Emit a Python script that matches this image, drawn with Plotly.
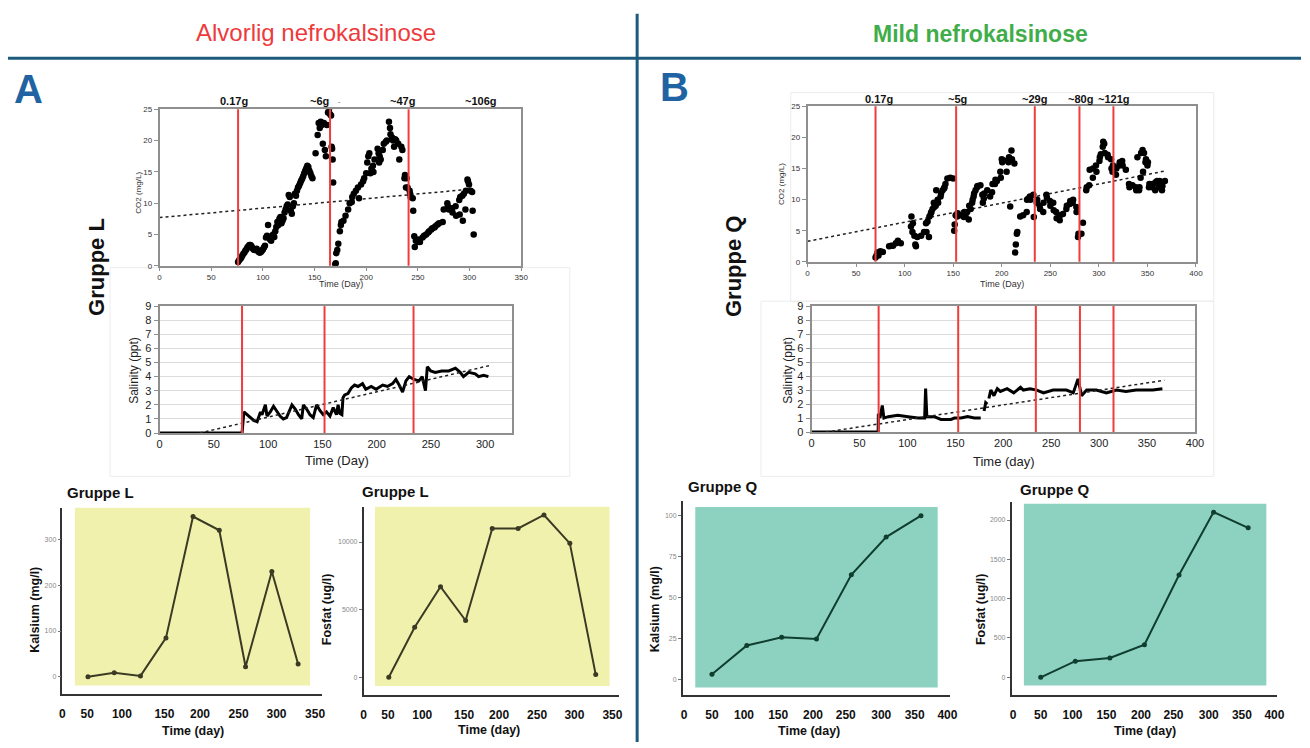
import plotly.graph_objects as go

W, H = 1310, 748

# ---------------- DATA ----------------
# Panel A (Gruppe L) - CO2 scatter
co2_a_day = [76,77,78,79,80,81,82,83,84,85,86,87,88,89,90,91,92,93,94,95,96,97,98,99,100,101,102,
             103,104,105,106,107,108,109,110,111,112,113,114,115,116,117,118,119,120,121,122,123,124,125,126,127,128,129,130,
             131,132,133,134,135,136,137,138,139,140,141,142,143,144,145,146,147,148,
             151,153,154,155,156,157,158,159,160,161,162,163,164,165,166,166.5,167,167.5,168,
             170,170.5,171,172,173,174.5,175.5,176,178,180,182.5,184,186,186.5,188,190,192,193,195,197,198,200,201,202,203,204,205,
             206.5,207,208,211,212,212.5,213,214,216,217,219,220,222,223,223.5,225,226,227,228,229,231,232,234,235,237,237.5,238.5,
             239,240,242,242.5,243,245,245.5,
             246.5,247,248,250,250.5,251,252,254.5,256,258,260,261,263,264,266,267,269,270.5,274,275,278.5,279,280,283,283.5,
             286.5,287,290,290.5,291,293,293.5,294.5,296,296.5,298,298.5,299.5,301,302.5,303,304]
co2_a_val = [0.6,0.9,1.1,1.3,1.6,1.9,2.1,2.4,2.6,2.9,3.1,3.3,3.3,3.1,2.8,2.6,2.5,2.6,2.7,2.4,2.2,2.1,2.2,2.4,2.6,2.9,3.2,
             4.5,4.8,6.5,4.6,4.2,4.0,4.8,5.0,4.6,5.5,6.2,7.0,6.5,7.5,7.8,6.8,7.2,7.6,8.5,9.0,9.5,9.8,11.3,11.0,8.8,8.3,9.5,10.0,
             11.5,11.2,12.0,12.5,12.8,13.2,13.6,13.9,14.3,14.8,15.2,15.6,16.0,15.8,15.2,14.8,14.3,14.0,
             18.0,20.9,22.8,22.0,23.0,22.5,19.5,22.8,18.5,17.5,22.5,24.5,25.0,24.2,24.0,19.0,18.7,17.0,13.3,
             0.2,0.4,2.0,2.5,3.5,5.5,6.5,7.0,7.2,8.0,9.0,10.0,10.2,11.0,11.5,12.0,12.5,10.8,13.0,13.5,14.0,14.8,16.5,17.5,18.0,14.8,15.5,
             16.0,15.0,17.0,18.7,18.0,16.5,17.5,17.0,18.5,19.5,19.8,20.0,23.0,22.0,21.0,20.5,20.0,19.0,20.2,20.0,19.5,17.0,19.0,18.5,14.0,14.5,12.5,
             14.0,12.5,12.0,11.5,11.0,10.8,8.8,
             4.7,3.0,4.0,3.8,4.2,4.0,3.8,4.5,4.8,5.0,5.3,5.5,5.8,6.0,6.1,6.3,6.6,6.8,7.0,9.0,10.0,9.5,9.0,9.2,8.5,
             9.5,8.0,10.5,8.2,11.0,11.2,7.2,11.5,9.0,12.0,13.8,13.5,13.0,12.0,11.8,8.8,5.0]

# Panel B (Gruppe Q) - CO2 scatter
co2_b_day = [70,71,72,73,74,75,77.5,84,86,88,91,93,96,
             106.5,107,108,108.5,110,111,111.6,113,117,120,122,122.5,123.6,125,125.5,127,127.5,128.7,130,130.5,132,132.5,
             134,134.5,137,137.5,139,140.6,141,142,144,147,150,
             151,151.5,152.5,154,154.5,157.6,161,161.5,162.7,164.4,166,166.5,168,169.5,170,171,171.5,173,174.6,175,178,180,180.5,
             181.5,182,185,188,190,190.5,193,193.5,195,198.5,199,200,200.5,202,205,207,207.5,208.7,210,210.5,213,
             213.8,214.5,215.5,216,219,222,225.7,226,227.4,229,229.5,232.5,233,236,236.5,239,239.5,242.7,243,246,246.5,249.5,250,
             253,253.5,256,256.5,259.7,260,263,266.5,267,270,270.5,273,273.5,276.8,277,278.5,279,282,283.6,
             287,287.5,290,290.5,293.8,294,297,297.5,300.6,301,302,304,304.5,305.5,306,309,309.5,312.5,313,314,314.5,317.6,318,
             321,321.5,324,324.5,327.8,331,331.5,334.6,338,338.5,339.7,341.4,341.8,343,343.5,345,345.5,346.5,348,348.5,350,350.5,
             351.6,352,355,355.5,358,358.5,360,360.5,362,362.5,365,365.5,368]
co2_b_val = [0.7,1.0,1.5,1.0,1.5,1.7,1.6,2.5,2.6,2.6,3.0,3.4,3.0,
             5.7,7.3,4.8,6.2,4.2,2.8,2.5,4.0,4.2,4.8,6.2,4.8,6.5,4.0,7.3,7.8,8.0,8.5,9.5,8.8,9.0,11.5,
             10.0,9.5,10.5,11.0,11.5,11.8,12.0,12.5,13.4,13.5,13.4,
             5.0,6.0,7.5,7.3,7.8,7.5,7.2,8.0,7.3,8.0,6.8,9.0,8.5,9.5,10.0,10.5,11.0,11.5,12.0,12.2,12.3,10.8,9.5,
             10.2,11.0,11.5,10.5,11.2,12.5,12.5,13.2,13.0,14.5,13.5,16.5,16.0,16.3,14.5,16.0,16.8,8.9,17.9,16.5,15.8,
             1.5,2.8,4.5,4.8,7.3,7.5,8.0,10.0,10.2,10.5,10.0,10.8,7.2,9.5,10.0,9.0,8.5,8.0,9.5,10.8,10.3,9.8,9.0,
             9.5,8.3,8.0,7.0,6.7,7.5,7.7,8.5,9.0,9.3,9.8,9.5,10.0,8.8,8.0,4.0,4.5,4.5,6.3,
             11.5,12.0,12.3,14.8,13.5,15.0,15.5,14.5,16.2,16.8,17.3,18.5,19.3,19.0,17.5,17.2,16.8,16.5,15.0,14.5,15.5,14.0,15.0,
             15.5,16.0,16.2,15.5,14.8,12.5,12.0,12.3,12.0,11.5,16.8,11.5,12.0,13.5,17.5,18.0,14.5,17.5,16.0,16.5,15.5,16.0,
             12.0,12.5,12.0,12.5,11.5,12.8,13.0,12.5,12.0,13.0,11.5,12.2,13.0]

# Trend lines
trend_co2_a_day, trend_co2_a_val = [0, 305], [7.7, 12.3]
trend_co2_b_day, trend_co2_b_val = [0, 368], [3.3, 14.6]

# Salinity
sal_a_day = [0,76,77.7,80.7,83.8,86.8,89.9,93,94.4,97.5,99,102,105,108,111,114,117,122,125,128,131,132.5,135.5,138.6,
             141.6,144.7,147.7,150.8,153.8,157,160,163,164.5,166,168,169,170.6,173.6,176.7,179.7,182.8,187,190,195,
             199.5,205.6,210,214.7,217.8,220.8,223.9,227,230,234.5,239,242,245,246.7,249.8,254,260,266.5,272.6,277,
             280,284.8,290.9,294,298.5,303]
sal_a_val = [0,0,1.5,1.3,1.1,0.9,0.8,1.5,1.3,2.0,1.2,1.5,1.9,1.5,1.2,1.0,1.1,2.0,1.7,1.3,1.0,2.0,1.7,1.3,
             1.1,2.0,1.6,1.3,1.5,1.2,1.8,1.3,2.0,1.4,1.3,2.5,2.7,2.8,3.2,3.4,3.3,3.5,3.1,3.3,
             3.1,3.4,3.3,3.5,3.8,3.4,2.9,3.7,4.0,3.8,3.7,4.0,3.0,4.7,4.4,4.3,4.4,4.4,4.6,4.3,
             4.0,4.3,4.2,4.0,4.1,4.0]
sal_b_day = [0,69.5,69.7,71.4,73.8,75.5,80,90,100.7,111,118,119,120.3,128,135,145.5,149,156,162.8,169.7,176.5,178,
             180,181.7,183.4,184,185,187,190.3,193.8,197,204,211,218,221,228,235,242,252,266,273,278,281.7,287,297,
             307.6,318,328,338.6,356,366]
sal_b_val = [0,0,1.3,1.0,1.9,1.0,1.1,1.2,1.1,1.0,1.0,3.1,1.1,1.1,0.9,0.9,1.0,1.0,1.1,1.0,1.0,None,
             1.5,2.1,2.0,None,2.4,3.0,2.6,3.1,2.9,3.1,2.8,3.2,3.0,3.1,3.0,2.8,3.0,3.0,2.8,3.8,2.6,3.0,3.0,
             2.8,3.0,2.9,3.0,3.0,3.1]
trend_sal_a_day, trend_sal_a_val = [37, 305], [0, 4.8]
trend_sal_b_day, trend_sal_b_val = [15, 368], [0, 3.7]

# Dosing events (days) and labels
dose_a_co2 = [76, 165, 241]
dose_a_sal = [76, 152, 234]
dose_b = [70, 153, 234, 280, 315]
label_a_text = ["0.17g", "~6g", "-", "~47g", "~106g"]
label_a_day = [72, 155, 174, 235, 311]
label_b_text = ["0.17g", "~5g", "~29g", "~80g", "~121g"]
label_b_day = [74, 154, 234, 281, 316]

# Bottom panels
days_l = [56, 90, 124, 157, 192, 226, 260, 294, 328]
kalsium_l = [0, 9, 2, 85, 350, 320, 22, 230, 28]
fosfat_l = [0, 3700, 6700, 4200, 11000, 11000, 12000, 9900, 200]
days_q = [50, 100, 150, 200, 250, 300, 350]
kalsium_q = [3.5, 21, 26, 25, 64, 87, 100]
fosfat_q = [0, 205, 245, 415, 1300, 2100, 1900]
time_ticktext_l = ["0", "50", "100", "150", "200", "250", "300", "350"]
time_ticktext_q = ["0", "50", "100", "150", "200", "250", "300", "350", "400"]

# ---------------- LAYOUT HELPERS ----------------
def fx(px):
    return px / W

def fy(py):
    return 1 - py / H

FONT = "Liberation Sans, Arial, sans-serif"
layout = dict(width=W, height=H, margin=dict(l=0, r=0, t=0, b=0),
              paper_bgcolor="white", plot_bgcolor="white", showlegend=False,
              font=dict(family=FONT, color="#222"))

def set_axes(n, xpx, ypx, xr, yr, xstyle, ystyle):
    xs = "xaxis" if n == 1 else f"xaxis{n}"
    ys = "yaxis" if n == 1 else f"yaxis{n}"
    layout[xs] = dict(domain=[fx(xpx[0]), fx(xpx[1])], anchor="y" if n == 1 else f"y{n}",
                      range=xr, zeroline=False, **xstyle)
    layout[ys] = dict(domain=[fy(ypx[1]), fy(ypx[0])], anchor="x" if n == 1 else f"x{n}",
                      range=yr, zeroline=False, **ystyle)

co2_x = dict(showline=True, linecolor="#8f8f8f", linewidth=1.5, mirror=True, ticks="outside", ticklen=3,
             tickcolor="#8f8f8f", showgrid=False, dtick=50, tickfont=dict(size=8, color="#333"))
co2_y = dict(showline=True, linecolor="#8f8f8f", linewidth=1.5, mirror=True, ticks="outside", ticklen=4,
             tickcolor="#8f8f8f", showgrid=False, dtick=5, tickfont=dict(size=8, color="#333"))
sal_x = dict(showline=True, linecolor="#8f8f8f", linewidth=2, mirror=True, ticks="", showgrid=False,
             dtick=50, tickfont=dict(size=11, color="#222"))
sal_y = dict(showline=True, linecolor="#8f8f8f", linewidth=2, mirror=True, ticks="outside", ticklen=4,
             tickcolor="#8f8f8f", showgrid=True, gridcolor="#dcdcdc", gridwidth=1, dtick=1,
             tickfont=dict(size=11, color="#222"))

def bot_x(tv, tt):
    return dict(showline=True, linecolor="#333", linewidth=1.5, mirror=False, ticks="", showgrid=False,
                tickmode="array", tickvals=tv, ticktext=tt, ticklabelstandoff=8,
                tickfont=dict(size=12, color="#111", weight="bold"))

def bot_y(tv):
    return dict(showline=True, linecolor="#333", linewidth=1.5, mirror=False, ticks="outside", ticklen=3,
                tickcolor="#777", showgrid=False, tickmode="array", tickvals=tv,
                ticktext=[str(v) for v in tv], tickfont=dict(size=7, color="#888"))

tickpos_l = [23, 55, 100, 155, 201, 251, 300, 350]
tickpos_q = [10, 50, 96, 145, 195, 242, 293, 341, 388]

set_axes(1, (158, 523), (105, 264), [0, 350], [0, 25], co2_x, co2_y)
set_axes(2, (158, 514), (305, 434), [0, 325], [0, 9], sal_x, sal_y)
set_axes(3, (812, 1204), (102, 260), [0, 400], [0, 25], co2_x, co2_y)
set_axes(4, (816, 1203), (305, 433), [0, 400], [0, 9], sal_x, sal_y)
set_axes(5, (60, 322), (510, 699), [23, 359], [-37, 369], bot_x(tickpos_l, time_ticktext_l), bot_y([0, 100, 200, 300]))
set_axes(6, (364, 622), (509, 700), [23, 359], [-1290, 12600], bot_x(tickpos_l, time_ticktext_l), bot_y([0, 5000, 10000]))
set_axes(7, (686, 956), (503, 700), [8, 392], [-9, 109], bot_x(tickpos_q, time_ticktext_q), bot_y([0, 25, 50, 75, 100]))
set_axes(8, (1018, 1286), (504, 700), [8, 392], [-222, 2230], bot_x(tickpos_q, time_ticktext_q), bot_y([0, 500, 1000, 1500, 2000]))

fig = go.Figure()

def ax(n):
    return ("x", "y") if n == 1 else (f"x{n}", f"y{n}")

# CO2 scatter + trends
for n, dx, dy, tx, ty in [(1, co2_a_day, co2_a_val, trend_co2_a_day, trend_co2_a_val),
                          (3, co2_b_day, co2_b_val, trend_co2_b_day, trend_co2_b_val)]:
    xa, ya = ax(n)
    fig.add_trace(go.Scatter(x=tx, y=ty, mode="lines", line=dict(color="#222", width=1.5, dash="dot"),
                             xaxis=xa, yaxis=ya))
    fig.add_trace(go.Scatter(x=dx, y=dy, mode="markers", marker=dict(color="black", size=6.5),
                             xaxis=xa, yaxis=ya))

# Salinity lines + trends
for n, dx, dy, tx, ty in [(2, sal_a_day, sal_a_val, trend_sal_a_day, trend_sal_a_val),
                          (4, sal_b_day, sal_b_val, trend_sal_b_day, trend_sal_b_val)]:
    xa, ya = ax(n)
    fig.add_trace(go.Scatter(x=dx, y=dy, mode="lines", line=dict(color="black", width=3),
                             connectgaps=False, xaxis=xa, yaxis=ya))
    fig.add_trace(go.Scatter(x=tx, y=ty, mode="lines", line=dict(color="#222", width=1.5, dash="dot"),
                             xaxis=xa, yaxis=ya))

# Bottom line charts
for n, dx, dy, col in [(5, days_l, kalsium_l, "#3b3b25"), (6, days_l, fosfat_l, "#3b3b25"),
                       (7, days_q, kalsium_q, "#0f3d2e"), (8, days_q, fosfat_q, "#0f3d2e")]:
    xa, ya = ax(n)
    fig.add_trace(go.Scatter(x=dx, y=dy, mode="lines+markers", line=dict(color=col, width=2),
                             marker=dict(color=col, size=5), xaxis=xa, yaxis=ya))

shapes = []
# dose lines
for n, days in [(1, dose_a_co2), (2, dose_a_sal), (3, dose_b), (4, dose_b)]:
    xa, ya = ax(n)
    for d in days:
        shapes.append(dict(type="line", xref=xa, yref=f"{ya} domain", x0=d, x1=d, y0=0, y1=1,
                           line=dict(color="#f03c3c", width=2)))

# background rectangles for the bottom charts
for n, col, fr in [(5, "#f1f1ae", (0.048, 0.954, 0.044, 1.0)),
                   (6, "#f1f1ae", (0.044, 0.962, 0.047, 1.0)),
                   (7, "#8dd1c1", (0.047, 0.953, 0.037, 0.969)),
                   (8, "#8dd1c1", (0.046, 0.959, 0.048, 0.991))]:
    xa, ya = ax(n)
    shapes.append(dict(type="rect", xref=f"{xa} domain", yref=f"{ya} domain", x0=fr[0], x1=fr[1],
                       y0=fr[2], y1=fr[3], fillcolor=col, line=dict(width=0), layer="below"))

# faint frames around pasted sub-figures
for (x0, y0, x1, y1) in [(108, 266, 572, 478), (795, 88, 1222, 300), (765, 300, 1222, 478)]:
    shapes.append(dict(type="rect", xref="paper", yref="paper", x0=fx(x0), x1=fx(x1), y0=fy(y1), y1=fy(y0),
                       line=dict(color="#ececec", width=1), fillcolor="rgba(0,0,0,0)", layer="below"))

# divider lines
shapes.append(dict(type="line", xref="paper", yref="paper", x0=fx(5), x1=fx(1310), y0=fy(53), y1=fy(53),
                   line=dict(color="#1c5b7c", width=3)))
shapes.append(dict(type="line", xref="paper", yref="paper", x0=fx(640), x1=fx(640), y0=fy(8), y1=fy(748),
                   line=dict(color="#1c5b7c", width=3)))
layout["shapes"] = shapes

anns = []

def ann(text, px, py, size, color="#111", bold=False, angle=0, family=FONT):
    anns.append(dict(xref="paper", yref="paper", x=fx(px), y=fy(py), xanchor="center", yanchor="middle",
                     showarrow=False, text=text, textangle=angle,
                     font=dict(size=size, color=color, family=family, weight="bold" if bold else "normal")))

ann("Alvorlig nefrokalsinose", 316, 27, 24, color="#ee3a3d")
ann("Mild nefrokalsinose", 987, 28, 23, color="#40ad4a", bold=True)
ann("A", 26, 84, 40, color="#1f63a3", bold=True)
ann("B", 678, 82, 40, color="#1f63a3", bold=True)
ann("Gruppe L", 95, 265, 22, bold=True, angle=-90)
ann("Gruppe Q", 738, 265, 22, bold=True, angle=-90)

ann("CO2 (mg/L)", 137, 190, 8, color="#333", angle=-90)
ann("Time (Day)", 341, 283, 9, color="#333")
ann("CO2 (mg/L)", 785, 181, 8, color="#333", angle=-90)
ann("Time (Day)", 1008, 283, 9, color="#333")
ann("Salinity (ppt)", 132, 370, 12, color="#222", angle=-90)
ann("Time (Day)", 337, 462, 13, color="#222")
ann("Salinity (ppt)", 792, 370, 12, color="#222", angle=-90)
ann("Time (day)", 1010, 463, 13, color="#222")

ann("Gruppe L", 98, 494, 15, bold=True)
ann("Gruppe L", 396, 493, 15, bold=True)
ann("Gruppe Q", 727, 488, 15, bold=True)
ann("Gruppe Q", 1062, 491, 15, bold=True)
ann("Kalsium (mg/l)", 32, 614, 12.5, bold=True, angle=-90)
ann("Fosfat (ug/l)", 327, 613, 12.5, bold=True, angle=-90)
ann("Kalsium (mg/l)", 658, 613, 12.5, bold=True, angle=-90)
ann("Fosfat (ug/l)", 987, 613, 12.5, bold=True, angle=-90)
ann("Time (day)", 192, 737, 12.5, bold=True)
ann("Time (day)", 490, 736, 12.5, bold=True)
ann("Time (day)", 813, 737, 12.5, bold=True)
ann("Time (day)", 1153, 737, 12.5, bold=True)

# dose labels above CO2 panels
for txt, d in zip(label_a_text, label_a_day):
    anns.append(dict(xref="x", yref="paper", x=d, y=fy(97), showarrow=False, text=txt,
                     xanchor="center", yanchor="middle",
                     font=dict(size=11 if txt != "-" else 7, color="#111" if txt != "-" else "#999",
                               family=FONT, weight="bold")))
for txt, d in zip(label_b_text, label_b_day):
    anns.append(dict(xref="x3", yref="paper", x=d, y=fy(95), showarrow=False, text=txt,
                     xanchor="center", yanchor="middle",
                     font=dict(size=11, color="#111", family=FONT, weight="bold")))
layout["annotations"] = anns

fig.update_layout(**layout)
fig.write_html("out.html", config={"displayModeBar": False},
               post_script="document.body.style.margin='0';document.body.style.padding='0';"
                           "document.documentElement.style.overflow='hidden';")
